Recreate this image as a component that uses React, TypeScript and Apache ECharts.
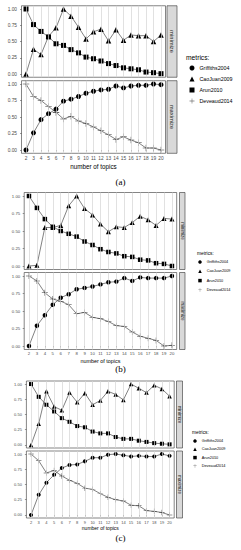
import React, { useEffect, useRef } from "react";
import * as echarts from "echarts";

// ---------- data ----------
const topics = [2, 3, 4, 5, 6, 7, 8, 9, 10, 11, 12, 13, 14, 15, 16, 17, 18, 19, 20];
const yTicks = [0, 0.25, 0.5, 0.75, 1];
const metricNames = ["Griffiths2004", "CaoJuan2009", "Arun2010", "Deveaud2014"];
const facetNames = ["minimize", "maximize"];
const captions = ["(a)", "(b)", "(c)"];
const axisTitle = "number of topics";
const legendTitle = "metrics:";

const aGriffiths = [0, 0.26, 0.46, 0.55, 0.62, 0.74, 0.77, 0.81, 0.86, 0.89, 0.91, 0.92, 0.97, 0.94, 0.97, 0.98, 0.98, 1.0, 0.99];
const aCaoJuan = [0, 0.38, 0.3, 0.58, 0.71, 1.0, 0.89, 0.72, 0.54, 0.65, 0.69, 0.51, 0.68, 0.52, 0.6, 0.59, 0.59, 0.5, 0.6];
const aArun = [1.0, 0.76, 0.655, 0.57, 0.465, 0.44, 0.375, 0.325, 0.26, 0.235, 0.2, 0.16, 0.13, 0.095, 0.08, 0.065, 0.03, 0.02, 0.005];
const aDeveaud = [1.0, 0.81, 0.75, 0.66, 0.57, 0.47, 0.51, 0.44, 0.4, 0.35, 0.29, 0.23, 0.16, 0.2, 0.15, 0.11, 0.03, 0.03, 0.0];

const bGriffiths = [0, 0.29, 0.44, 0.59, 0.69, 0.74, 0.81, 0.83, 0.85, 0.88, 0.91, 0.92, 0.97, 0.93, 0.98, 0.97, 0.97, 0.97, 1.0];
const bCaoJuan = [0, 0.01, 0.55, 0.55, 0.58, 0.86, 1.0, 0.82, 0.73, 0.6, 0.49, 0.56, 0.55, 0.62, 0.71, 0.66, 0.58, 0.68, 0.67];
const bArun = [1.0, 0.83, 0.67, 0.56, 0.5, 0.46, 0.42, 0.35, 0.3, 0.24, 0.2, 0.18, 0.14, 0.13, 0.09, 0.08, 0.04, 0.03, 0.0];
const bDeveaud = [1.0, 0.93, 0.76, 0.67, 0.64, 0.59, 0.46, 0.48, 0.41, 0.39, 0.35, 0.29, 0.28, 0.2, 0.14, 0.11, 0.08, 0.0, 0.01];

const cGriffiths = [0, 0.33, 0.53, 0.66, 0.77, 0.82, 0.83, 0.88, 0.94, 0.94, 0.99, 1.0, 0.98, 0.96, 0.97, 0.96, 0.96, 1.0, 0.97];
const cCaoJuan = [0, 0.35, 0.88, 0.63, 0.57, 0.86, 0.7, 0.85, 0.66, 0.73, 0.88, 0.83, 0.74, 1.0, 0.93, 0.86, 0.98, 0.92, 0.8];
const cArun = [1.0, 0.79, 0.66, 0.55, 0.44, 0.38, 0.31, 0.29, 0.22, 0.19, 0.19, 0.13, 0.1, 0.1, 0.07, 0.05, 0.03, 0.02, 0.01];
const cDeveaud = [1.0, 0.89, 0.69, 0.73, 0.64, 0.57, 0.52, 0.44, 0.42, 0.35, 0.29, 0.25, 0.23, 0.16, 0.15, 0.07, 0.06, 0.04, 0.0];

const panelData = [
  { griffiths: aGriffiths, caojuan: aCaoJuan, arun: aArun, deveaud: aDeveaud },
  { griffiths: bGriffiths, caojuan: bCaoJuan, arun: bArun, deveaud: bDeveaud },
  { griffiths: cGriffiths, caojuan: cCaoJuan, arun: cArun, deveaud: cDeveaud },
];

// ---------- layout ----------
const layouts = [
  {
    left: 21.5, width: 144, topT: 5.75, hT: 71.5, topB: 80.7, hB: 72.6,
    stripX: 167, stripW: 10, stripFont: 5.8,
    tickFont: 4.8, nameFont: 6.3, xLabelMargin: 3, nameGap: 10.5, yLabelMargin: 4.5,
    sym: 5, captionY: 182, captionFont: 9,
    legTitleX: 186, legTitleY: 57, legTitleFont: 6.7,
    legLeft: 189.5, legTop: 65, legItem: 5, legFont: 5.3, legLine: 6, legGap: 5,
  },
  {
    left: 24.2, width: 152.5, topT: 192.5, hT: 77, topB: 272.5, hB: 77,
    stripX: 179.5, stripW: 5.5, stripFont: 4.5,
    tickFont: 4.3, nameFont: 5.4, xLabelMargin: 2.3, nameGap: 8.8, yLabelMargin: 4,
    sym: 4.5, captionY: 369, captionFont: 9,
    legTitleX: 197, legTitleY: 253, legTitleFont: 4.8,
    legLeft: 198.25, legTop: 259.5, legItem: 3.5, legFont: 3.8, legLine: 5, legGap: 4.3,
  },
  {
    left: 26.4, width: 147.8, topT: 381, hT: 67, topB: 451, hB: 67,
    stripX: 176.5, stripW: 6, stripFont: 4.5,
    tickFont: 4, nameFont: 5, xLabelMargin: 2, nameGap: 7.5, yLabelMargin: 4.5,
    sym: 4, captionY: 538, captionFont: 9,
    legTitleX: 192, legTitleY: 432, legTitleFont: 4.8,
    legLeft: 193.25, legTop: 438.5, legItem: 3.5, legFont: 3.8, legLine: 5, legGap: 3.3,
  },
];

const PLUS = "path://M0,4.6H10V5.4H0ZM4.6,0H5.4V10H4.6Z";
const FONT = "Liberation Sans, Arial, sans-serif";

function pairs(vals: number[]) {
  return topics.map((t, i) => [t, vals[i]]);
}

function buildOption() {
  const grid: any[] = [];
  const xAxis: any[] = [];
  const yAxis: any[] = [];
  const series: any[] = [];
  const legend: any[] = [];
  const graphic: any[] = [];

  layouts.forEach((L, p) => {
    const d = panelData[p];
    const facets = [
      { top: L.topT, height: L.hT, isBottom: false },
      { top: L.topB, height: L.hB, isBottom: true },
    ];
    facets.forEach((f, k) => {
      const gi = grid.length;
      grid.push({
        left: L.left, top: f.top, width: L.width, height: f.height,
        show: true, borderColor: "#333", borderWidth: 0.6, backgroundColor: "#fff",
        containLabel: false,
      });
      xAxis.push({
        type: "value", gridIndex: gi, min: 1.4, max: 20.6,
        axisLine: { show: false },
        splitLine: { show: false },
        axisTick: {
          show: f.isBottom, customValues: topics, length: 1.5,
          lineStyle: { color: "#333", width: 0.5 },
        },
        axisLabel: {
          show: f.isBottom, customValues: topics, fontSize: L.tickFont,
          color: "#4d4d4d", margin: L.xLabelMargin, fontFamily: FONT,
        },
        name: f.isBottom ? axisTitle : "",
        nameLocation: "middle", nameGap: L.nameGap,
        nameTextStyle: { fontSize: L.nameFont, color: "#000", fontFamily: FONT },
      });
      yAxis.push({
        type: "value", gridIndex: gi, min: -0.05, max: 1.05,
        axisLine: { show: false },
        splitLine: { show: false },
        axisTick: {
          show: true, customValues: yTicks, length: 1.5,
          lineStyle: { color: "#333", width: 0.5 },
        },
        axisLabel: {
          customValues: yTicks, fontSize: L.tickFont, color: "#4d4d4d",
          margin: L.yLabelMargin, fontFamily: FONT,
          formatter: (v: number) => v.toFixed(2),
        },
      });
      // vertical gridlines at each topic
      series.push({
        type: "line", name: "grid" + gi, xAxisIndex: gi, yAxisIndex: gi,
        data: pairs(topics.map(() => 0)), showSymbol: false, symbol: "none",
        lineStyle: { opacity: 0, width: 0 }, silent: true, z: 1,
        markLine: {
          silent: true, symbol: ["none", "none"], label: { show: false },
          lineStyle: { color: "#d4d4d4", width: 0.7, type: "solid" },
          emphasis: { disabled: true },
          data: topics.map((t) => ({ xAxis: t })),
        },
      });
      const lineCommon = {
        type: "line", xAxisIndex: gi, yAxisIndex: gi, z: 3,
        lineStyle: { color: "#4a4a4a", width: 0.7 },
        showSymbol: true, emphasis: { disabled: true },
      };
      if (!f.isBottom) {
        series.push({
          ...lineCommon, name: metricNames[1], data: pairs(d.caojuan),
          symbol: "triangle", symbolSize: L.sym + 0.5, itemStyle: { color: "#000" },
        });
        series.push({
          ...lineCommon, name: metricNames[2], data: pairs(d.arun),
          symbol: "rect", symbolSize: L.sym, itemStyle: { color: "#000" },
        });
      } else {
        series.push({
          ...lineCommon, name: metricNames[0], data: pairs(d.griffiths),
          symbol: "circle", symbolSize: L.sym, itemStyle: { color: "#000" },
        });
        series.push({
          ...lineCommon, name: metricNames[3], data: pairs(d.deveaud),
          symbol: PLUS, symbolSize: L.sym + 1.5, itemStyle: { color: "#333" },
        });
      }
      // strip
      graphic.push({
        type: "rect", z: 10,
        shape: { x: L.stripX, y: f.top, width: L.stripW, height: f.height },
        style: { fill: "#d9d9d9", stroke: "#333", lineWidth: 0.6 },
      });
      graphic.push({
        type: "text", z: 11,
        x: L.stripX + L.stripW / 2, y: f.top + f.height / 2,
        rotation: -Math.PI / 2,
        style: {
          text: facetNames[k], fontSize: L.stripFont, fill: "#1a1a1a",
          align: "center", verticalAlign: "middle", fontFamily: FONT,
        },
      });
    });

    legend.push({
      orient: "vertical", left: L.legLeft, top: L.legTop, padding: 0,
      itemWidth: L.legItem, itemHeight: L.legItem, itemGap: L.legGap,
      selectedMode: false,
      textStyle: { fontSize: L.legFont, color: "#000", lineHeight: L.legLine, fontFamily: FONT },
      data: [
        { name: metricNames[0], icon: "circle" },
        { name: metricNames[1], icon: "triangle" },
        { name: metricNames[2], icon: "rect" },
        { name: metricNames[3], icon: PLUS },
      ],
    });
    graphic.push({
      type: "text", z: 11, x: L.legTitleX, y: L.legTitleY,
      style: {
        text: legendTitle, fontSize: L.legTitleFont, fill: "#000",
        align: "left", verticalAlign: "middle", fontFamily: FONT,
      },
    });
    graphic.push({
      type: "text", z: 11, x: 120.5, y: L.captionY,
      style: {
        text: captions[p], fontSize: L.captionFont, fill: "#000",
        align: "center", verticalAlign: "middle",
        fontFamily: "Liberation Serif, Times New Roman, serif",
      },
    });
  });

  return {
    animation: false,
    backgroundColor: "#fff",
    grid, xAxis, yAxis, series, legend, graphic,
  };
}

export default function App() {
  const ref = useRef<HTMLDivElement>(null);
  useEffect(() => {
    if (!ref.current) return;
    const chart = echarts.init(ref.current, null, { renderer: "svg" });
    chart.setOption(buildOption() as any);
    return () => chart.dispose();
  }, []);
  return (
    <div
      ref={ref}
      style={{ position: "fixed", left: 0, top: 0, width: 241, height: 550, background: "#fff" }}
    />
  );
}
